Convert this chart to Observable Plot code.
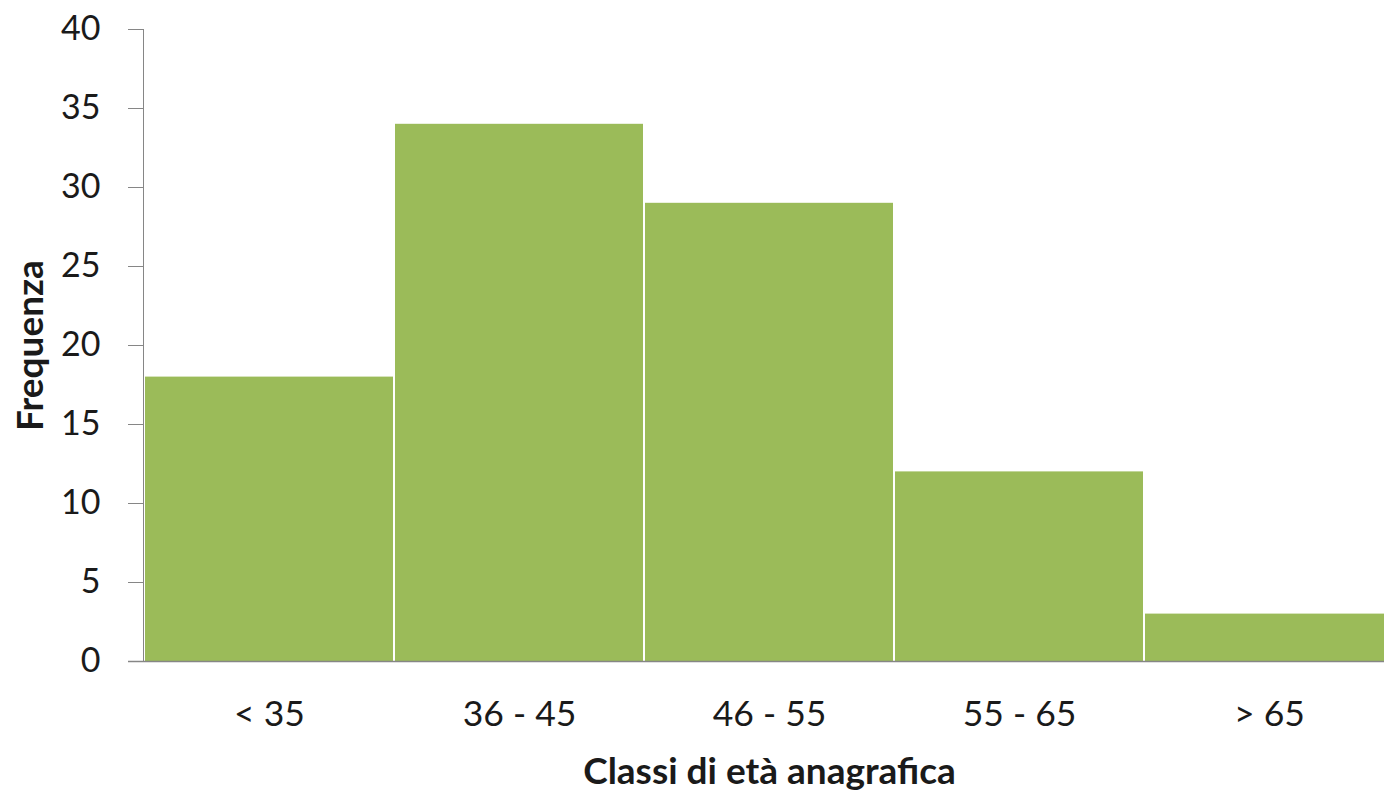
<!DOCTYPE html>
<html>
<head>
<meta charset="utf-8">
<script src="https://cdn.jsdelivr.net/npm/d3@7"></script>
<script src="https://cdn.jsdelivr.net/npm/@observablehq/plot@0.6"></script>
<style>
  html, body { margin: 0; padding: 0; background: #fff; overflow: hidden; }
  #chart svg { overflow: visible; }
</style>
</head>
<body>
<div id="chart"></div>
<script>
const categories = ["< 35", "36 - 45", "46 - 55", "55 - 65", "> 65"];
const frequencies = [18, 34, 29, 12, 3];
const yTicks = [0, 5, 10, 15, 20, 25, 30, 35, 40];
const xTitle = "Classi di età anagrafica";
const yTitle = "Frequenza";

const data = categories.map((c, i) => ({ classe: c, freq: frequencies[i] }));

const axisColor = "#868686";
const font = "Lato, 'Open Sans', sans-serif";

const chart = Plot.plot({
  width: 1384,
  height: 795,
  marginTop: 29,
  marginBottom: 134,
  marginLeft: 143,
  marginRight: -11,
  style: { fontFamily: font, fontSize: "34px", color: "#1a1a1a", background: "#fff" },
  x: { domain: categories, padding: 0 },
  y: { domain: [0, 40] },
  marks: [
    Plot.barY(data, { x: "classe", y: "freq", fill: "#9BBB59", insetLeft: 1, insetRight: 1 }),
    Plot.axisY({ ticks: yTicks, tickSize: 15, tickPadding: 28, stroke: axisColor, fill: "#1a1a1a", fontSize: 34, label: null }),
    Plot.axisX({ tickSize: 0, tickPadding: 39, fill: "#1a1a1a", fontSize: 35.5, label: null }),
    Plot.frame({ anchor: "left", stroke: axisColor }),
    Plot.ruleY([0], { stroke: axisColor, strokeWidth: 1.5, insetLeft: -15 }),
    Plot.text([xTitle], { frameAnchor: "bottom", lineAnchor: "middle", textAnchor: "middle", dy: 111, fontWeight: "bold", fontSize: 37, fill: "#1a1a1a" }),
    Plot.text([yTitle], { frameAnchor: "left", lineAnchor: "middle", textAnchor: "middle", dx: -112, rotate: -90, fontWeight: "bold", fontSize: 37, fill: "#1a1a1a" })
  ]
});
document.getElementById("chart").appendChild(chart);
</script>
</body>
</html>
